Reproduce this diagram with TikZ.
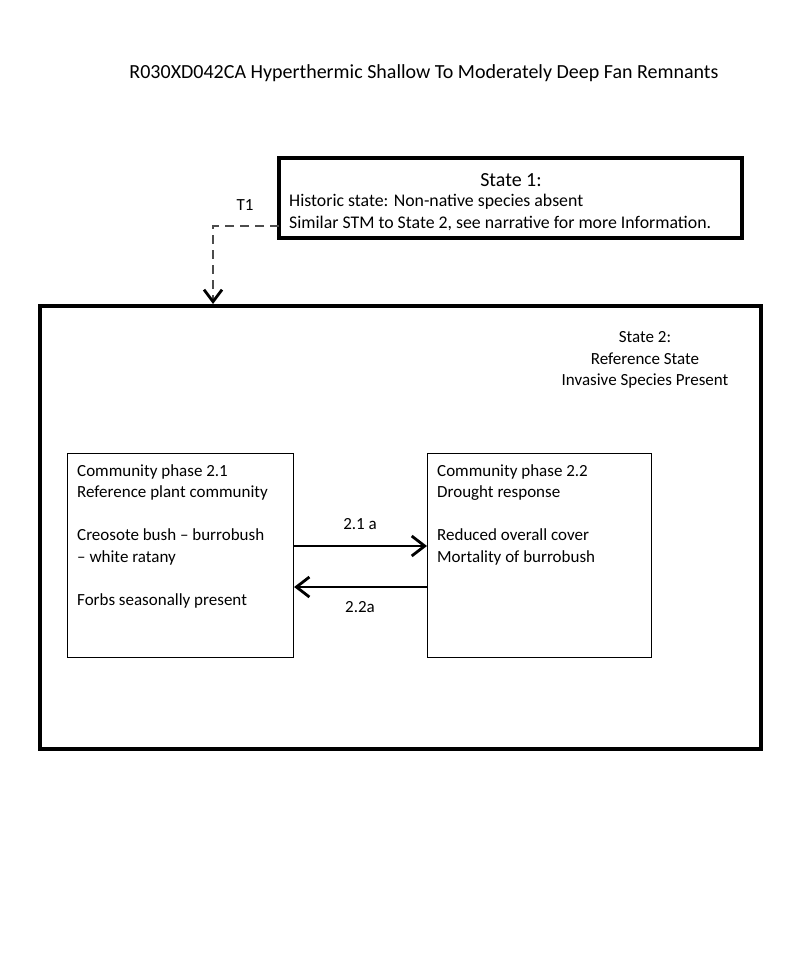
\documentclass[tikz,border=0pt]{standalone}
\usepackage{fontspec}
\setmainfont{Carlito}
\usetikzlibrary{arrows.meta}
\begin{document}
\begin{tikzpicture}[x=1pt,y=-1pt,
  statebox/.style={draw,line width=3.6pt},
  phasebox/.style={draw,line width=1.1pt},
  body/.style={font=\fontsize{17}{21.5}\selectfont},
  sbody/.style={font=\fontsize{17.8}{22}\selectfont},
  barb/.style={-{Straight Barb[length=13pt,width=20pt,line width=2.8pt]},line width=1.4pt},
  lbl/.style={font=\fontsize{17}{20}\selectfont,inner sep=0pt}]
\useasboundingbox (0,0) rectangle (800,960);
\node[font=\fontsize{20}{24}\selectfont,inner sep=0pt] (title) at (424,73) {R030XD042CA Hyperthermic Shallow To Moderately Deep Fan Remnants};
% State 1
\draw[statebox] (279,158) rectangle (742,238);
\coordinate (s1l) at (279,226);
\node[font=\fontsize{20}{24}\selectfont,inner sep=0pt] (s1h) at (511,180) {State 1:};
\node[sbody,anchor=west,inner sep=0pt,align=left] (s1t) at (289,212) {Historic state: Non-native species absent\\Similar STM to State 2, see narrative for more Information.};
% State 2
\draw[statebox] (40,306) rectangle (761,749);
\coordinate (s2t) at (213,304);
\node[body,inner sep=0pt,align=center] (s2h) at (645,360) {State 2:\\Reference State\\Invasive Species Present};
% T1
\node[lbl] (t1) at (245,205) {T1};
\draw[dashed,dash pattern=on 9pt off 6pt,line width=1.5pt,black!70,-{Straight Barb[length=12pt,width=18pt,line width=2.8pt,black]}] (s1l) -- (213,226) -- (s2t);
% phases
\node[phasebox,minimum width=226pt,minimum height=204pt,anchor=north west] (p1) at (67,453) {};
\node[body,anchor=north west,align=left,inner sep=0pt] (p1t) at (77,464) {Community phase 2.1\\Reference plant community\\[21.5pt]Creosote bush -- burrobush\\-- white ratany\\[21.5pt]Forbs seasonally present};
\node[phasebox,minimum width=224pt,minimum height=204pt,anchor=north west] (p2) at (427,453) {};
\node[body,anchor=north west,align=left,inner sep=0pt] (p2t) at (437,464) {Community phase 2.2\\Drought response\\[21.5pt]Reduced overall cover\\Mortality of burrobush};
\draw[barb] (p1.east |- 0,546) -- (p2.west |- 0,546);
\draw[barb] (p2.west |- 0,587) -- (p1.east |- 0,587);
\node[lbl] (a1) at (360,524) {2.1 a};
\node[lbl] (a2) at (360,607) {2.2a};
\end{tikzpicture}
\end{document}
